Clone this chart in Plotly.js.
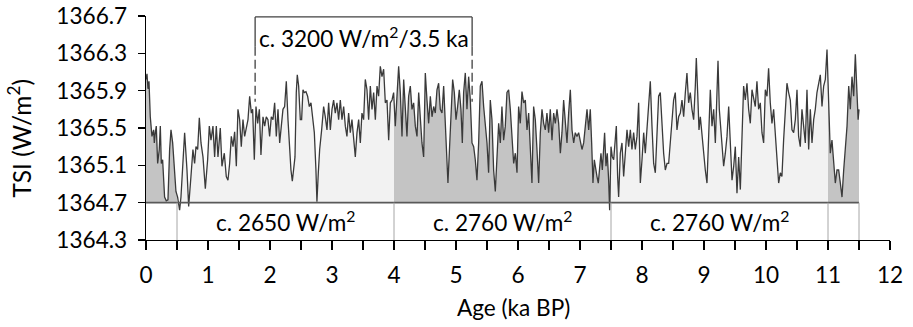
<!DOCTYPE html>
<html>
<head>
<meta charset="utf-8">
<script src="https://cdn.plot.ly/plotly-3.0.1.min.js"></script>
<style>
  html, body { margin: 0; padding: 0; background: #ffffff; }
  #chart { width: 913px; height: 327px; }
</style>
</head>
<body>
<div id="chart"></div>
<script>
// Holocene total solar irradiance reconstruction (ka BP vs W/m2)
const ageKa = [
  0.000, 0.016, 0.032, 0.048, 0.069, 0.096, 0.123, 0.134, 0.150, 0.166, 0.188, 0.214, 0.231, 0.247, 0.268, 0.300,
  0.327, 0.354, 0.381, 0.403, 0.430, 0.456, 0.483, 0.510, 0.542, 0.564, 0.591, 0.623, 0.661, 0.688, 0.725, 0.757,
  0.784, 0.806, 0.833, 0.860, 0.887, 0.919, 0.957, 0.994, 1.021, 1.048, 1.080, 1.107, 1.134, 1.161, 1.198, 1.225,
  1.263, 1.295, 1.322, 1.349, 1.376, 1.403, 1.430, 1.457, 1.483, 1.510, 1.537, 1.564, 1.591, 1.618, 1.645, 1.672,
  1.699, 1.720, 1.747, 1.774, 1.801, 1.828, 1.854, 1.887, 1.914, 1.940, 1.967, 1.994, 2.021, 2.048, 2.075, 2.102,
  2.129, 2.156, 2.182, 2.209, 2.236, 2.263, 2.290, 2.311, 2.338, 2.360, 2.381, 2.403, 2.424, 2.440, 2.462, 2.489,
  2.510, 2.532, 2.553, 2.580, 2.607, 2.634, 2.661, 2.688, 2.715, 2.741, 2.757, 2.779, 2.801, 2.833, 2.865, 2.892,
  2.919, 2.946, 2.973, 3.000, 3.026, 3.053, 3.080, 3.107, 3.134, 3.161, 3.188, 3.215, 3.241, 3.268, 3.295, 3.322,
  3.349, 3.376, 3.403, 3.430, 3.457, 3.483, 3.510, 3.537, 3.564, 3.591, 3.618, 3.645, 3.672, 3.699, 3.726, 3.752,
  3.779, 3.806, 3.833, 3.860, 3.887, 3.914, 3.941, 3.968, 3.994, 4.021, 4.048, 4.075, 4.102, 4.129, 4.156, 4.183,
  4.209, 4.236, 4.263, 4.290, 4.317, 4.344, 4.371, 4.398, 4.425, 4.451, 4.478, 4.505, 4.532, 4.559, 4.586, 4.613,
  4.640, 4.666, 4.693, 4.720, 4.747, 4.774, 4.801, 4.828, 4.854, 4.870, 4.892, 4.919, 4.946, 4.973, 5.000, 5.026,
  5.053, 5.080, 5.102, 5.123, 5.150, 5.177, 5.204, 5.231, 5.258, 5.285, 5.311, 5.338, 5.365, 5.392, 5.419, 5.446,
  5.473, 5.500, 5.526, 5.553, 5.580, 5.607, 5.634, 5.661, 5.688, 5.715, 5.741, 5.768, 5.795, 5.822, 5.849, 5.876,
  5.903, 5.930, 5.957, 5.984, 6.010, 6.037, 6.064, 6.091, 6.118, 6.145, 6.172, 6.199, 6.225, 6.252, 6.279, 6.306,
  6.333, 6.360, 6.387, 6.414, 6.440, 6.467, 6.494, 6.521, 6.548, 6.575, 6.602, 6.629, 6.656, 6.683, 6.709, 6.736,
  6.763, 6.790, 6.817, 6.844, 6.871, 6.898, 6.924, 6.951, 6.978, 7.005, 7.032, 7.059, 7.086, 7.113, 7.140, 7.166,
  7.188, 7.209, 7.231, 7.252, 7.274, 7.295, 7.317, 7.338, 7.360, 7.381, 7.397, 7.419, 7.440, 7.462, 7.478, 7.500,
  7.521, 7.543, 7.564, 7.586, 7.607, 7.623, 7.650, 7.677, 7.704, 7.731, 7.758, 7.785, 7.812, 7.838, 7.865, 7.892,
  7.919, 7.946, 7.973, 8.000, 8.027, 8.053, 8.080, 8.107, 8.134, 8.161, 8.188, 8.215, 8.242, 8.268, 8.295, 8.322,
  8.349, 8.376, 8.403, 8.430, 8.457, 8.484, 8.510, 8.537, 8.564, 8.591, 8.618, 8.645, 8.672, 8.699, 8.725, 8.752,
  8.779, 8.806, 8.833, 8.860, 8.876, 8.898, 8.919, 8.941, 8.968, 8.994, 9.021, 9.048, 9.075, 9.102, 9.129, 9.156,
  9.183, 9.210, 9.226, 9.247, 9.263, 9.290, 9.317, 9.344, 9.371, 9.398, 9.425, 9.452, 9.479, 9.505, 9.532, 9.559,
  9.586, 9.612, 9.639, 9.666, 9.693, 9.720, 9.747, 9.774, 9.801, 9.827, 9.854, 9.881, 9.908, 9.935, 9.962, 9.989,
  10.016, 10.042, 10.069, 10.096, 10.123, 10.150, 10.177, 10.204, 10.231, 10.257, 10.284, 10.311, 10.338, 10.365, 10.392, 10.419,
  10.446, 10.473, 10.500, 10.526, 10.553, 10.580, 10.607, 10.634, 10.661, 10.688, 10.715, 10.742, 10.769, 10.795, 10.822, 10.849,
  10.876, 10.903, 10.930, 10.957, 10.984, 11.011, 11.037, 11.064, 11.091, 11.118, 11.145, 11.172, 11.199, 11.226, 11.253, 11.280,
  11.307, 11.334, 11.360, 11.387, 11.414, 11.441, 11.468, 11.486, 11.500
];

const tsi = [
  1366.02, 1366.08, 1365.92, 1366.00, 1365.62, 1365.41, 1365.48, 1365.34, 1365.45, 1365.52, 1365.12, 1365.27, 1365.52, 1365.12, 1365.16, 1364.76,
  1364.72, 1364.73, 1365.27, 1365.48, 1365.34, 1365.05, 1364.82, 1364.76, 1364.62, 1364.76, 1365.12, 1365.45, 1365.05, 1364.66, 1364.98, 1365.27,
  1365.12, 1365.30, 1365.27, 1365.61, 1365.34, 1365.19, 1364.85, 1365.16, 1365.52, 1365.37, 1365.52, 1365.19, 1365.52, 1365.19, 1365.50, 1365.09,
  1365.23, 1364.98, 1364.94, 1365.12, 1365.41, 1365.30, 1365.46, 1365.09, 1365.70, 1365.59, 1365.30, 1365.59, 1365.41, 1365.52, 1365.59, 1365.84,
  1365.66, 1365.70, 1365.16, 1365.73, 1365.55, 1365.70, 1365.21, 1365.62, 1365.52, 1365.62, 1365.59, 1365.41, 1365.62, 1365.59, 1365.77, 1365.41,
  1365.70, 1365.34, 1365.55, 1365.70, 1365.73, 1366.00, 1365.59, 1365.30, 1365.05, 1364.93, 1365.05, 1365.19, 1365.88, 1366.07, 1365.95, 1365.59,
  1365.59, 1365.91, 1365.88, 1365.89, 1365.84, 1365.73, 1365.77, 1365.62, 1365.45, 1365.05, 1364.71, 1365.02, 1365.27, 1365.48, 1365.73, 1365.62,
  1365.48, 1365.77, 1365.48, 1365.70, 1365.80, 1365.66, 1365.77, 1365.59, 1365.80, 1365.59, 1365.73, 1365.52, 1365.41, 1365.66, 1365.45, 1365.59,
  1365.34, 1365.19, 1365.45, 1365.59, 1365.34, 1365.66, 1365.59, 1366.02, 1365.91, 1365.59, 1365.95, 1365.70, 1365.88, 1365.59, 1365.95, 1365.84,
  1366.16, 1366.05, 1366.13, 1365.77, 1365.80, 1365.37, 1365.77, 1365.80, 1365.88, 1365.52, 1365.84, 1366.16, 1365.88, 1365.41, 1366.02, 1365.66,
  1365.41, 1365.84, 1365.95, 1365.70, 1365.77, 1365.52, 1365.41, 1365.88, 1365.59, 1365.34, 1365.19, 1366.09, 1365.80, 1365.55, 1365.84, 1365.62,
  1365.73, 1365.66, 1365.91, 1365.98, 1365.70, 1365.66, 1365.95, 1365.52, 1365.02, 1364.91, 1365.23, 1365.70, 1366.02, 1365.88, 1365.59, 1365.73,
  1365.91, 1365.70, 1365.34, 1365.88, 1366.09, 1365.70, 1366.05, 1365.80, 1365.34, 1365.30, 1365.16, 1364.94, 1365.34, 1365.95, 1366.00, 1365.73,
  1365.52, 1365.34, 1365.02, 1365.80, 1365.59, 1365.05, 1364.82, 1365.16, 1365.55, 1365.34, 1365.73, 1365.37, 1365.52, 1365.88, 1365.91, 1365.70,
  1365.41, 1365.12, 1365.23, 1365.02, 1365.73, 1365.55, 1365.89, 1365.77, 1365.80, 1365.48, 1365.66, 1365.27, 1364.91, 1365.73, 1365.59, 1365.27,
  1364.91, 1365.45, 1365.70, 1365.55, 1365.48, 1365.66, 1365.45, 1365.70, 1365.37, 1365.66, 1365.55, 1365.70, 1365.55, 1365.23, 1365.45, 1365.80,
  1365.55, 1365.34, 1365.66, 1365.91, 1365.48, 1365.34, 1365.45, 1365.41, 1365.45, 1365.37, 1365.27, 1365.34, 1365.55, 1365.70, 1365.48, 1365.70,
  1365.34, 1364.91, 1365.16, 1365.05, 1364.98, 1364.91, 1365.05, 1365.23, 1365.05, 1365.27, 1365.45, 1365.09, 1365.23, 1364.94, 1364.62, 1365.30,
  1365.19, 1365.16, 1365.34, 1365.52, 1364.98, 1364.76, 1365.23, 1365.34, 1364.98, 1365.30, 1365.48, 1365.30, 1365.48, 1365.27, 1365.45, 1365.27,
  1365.41, 1365.77, 1364.91, 1365.16, 1365.45, 1365.23, 1365.48, 1365.70, 1366.00, 1365.52, 1365.12, 1365.02, 1365.48, 1365.84, 1365.88, 1365.48,
  1365.23, 1365.05, 1365.12, 1365.12, 1365.34, 1365.62, 1365.80, 1365.88, 1365.48, 1365.62, 1365.66, 1365.80, 1365.62, 1365.88, 1366.09, 1365.77,
  1365.88, 1365.70, 1365.59, 1365.95, 1366.25, 1365.88, 1365.48, 1365.62, 1365.41, 1365.23, 1365.05, 1364.91, 1365.34, 1365.91, 1365.52, 1365.70,
  1365.34, 1365.95, 1366.22, 1365.70, 1365.55, 1365.27, 1365.09, 1365.23, 1365.41, 1365.73, 1365.27, 1364.94, 1365.09, 1365.30, 1364.80, 1365.19,
  1364.84, 1365.34, 1365.95, 1365.80, 1365.98, 1365.70, 1365.55, 1365.91, 1365.80, 1365.73, 1366.00, 1365.70, 1365.77, 1365.45, 1365.34, 1365.91,
  1365.84, 1366.14, 1365.77, 1365.55, 1365.70, 1365.41, 1365.16, 1364.91, 1365.02, 1364.98, 1365.37, 1365.70, 1365.98, 1365.88, 1365.80, 1365.48,
  1365.45, 1365.59, 1365.91, 1365.41, 1365.30, 1365.70, 1365.52, 1365.34, 1365.91, 1365.27, 1365.70, 1365.34, 1365.59, 1365.70, 1365.88, 1365.98,
  1366.07, 1365.73, 1365.95, 1366.02, 1366.34, 1365.77, 1365.23, 1365.37, 1365.12, 1364.91, 1365.05, 1365.05, 1364.91, 1364.76, 1365.05, 1365.27,
  1365.52, 1365.95, 1365.70, 1366.05, 1365.84, 1366.29, 1365.88, 1365.59, 1365.70
];

// Intervals between irradiance minima, shaded alternately
const zoneBreaks = [0, 0.5, 4, 7.5, 11, 11.5];
const zoneShade = ['dark', 'light', 'dark', 'light', 'dark'];
const zoneLabels = ['c. 2650 W/m<sup>2</sup>', 'c. 2760 W/m<sup>2</sup>', 'c. 2760 W/m<sup>2</sup>'];
const zoneLabelAt = [2.25, 5.75, 9.25];

// Long cycle bracket
const cycleStart = 1.76;
const cycleEnd = 5.26;
const cycleLabel = 'c. 3200 W/m<sup>2</sup>/3.5 ka';

const baseline = 1364.7;
const yTicks = [1364.3, 1364.7, 1365.1, 1365.5, 1365.9, 1366.3, 1366.7];
const xTicks = [0, 1, 2, 3, 4, 5, 6, 7, 8, 9, 10, 11, 12];

const FONT = 'Lato, "Open Sans", sans-serif';
const FS = 22.6;
const DARK = '#c4c4c4';
const LIGHT = '#f2f2f2';

function valueAt(x) {
  for (let i = 1; i < ageKa.length; i++) {
    if (ageKa[i] >= x) {
      const t = (x - ageKa[i - 1]) / (ageKa[i] - ageKa[i - 1]);
      return tsi[i - 1] + t * (tsi[i] - tsi[i - 1]);
    }
  }
  return tsi[tsi.length - 1];
}

const traces = [];
for (let z = 0; z < zoneShade.length; z++) {
  const a = zoneBreaks[z], b = zoneBreaks[z + 1];
  const xs = [a, a], ys = [baseline, valueAt(a)];
  for (let i = 0; i < ageKa.length; i++) {
    if (ageKa[i] > a && ageKa[i] < b) { xs.push(ageKa[i]); ys.push(tsi[i]); }
  }
  xs.push(b, b); ys.push(valueAt(b), baseline);
  traces.push({
    x: xs, y: ys, type: 'scatter', mode: 'lines', fill: 'toself',
    fillcolor: zoneShade[z] === 'dark' ? DARK : LIGHT,
    line: { width: 0 }, hoverinfo: 'skip', showlegend: false
  });
}

traces.push({
  x: ageKa, y: tsi, type: 'scatter', mode: 'lines',
  line: { color: '#3a3a3a', width: 1.3 }, showlegend: false
});

const bracket = { color: '#404040', width: 1.3 };
const shapes = [
  // reference level
  { type: 'line', x0: 0, x1: zoneBreaks[zoneBreaks.length - 1], y0: baseline, y1: baseline,
    line: { color: '#595959', width: 1.6 } },
  // cycle bracket
  { type: 'line', x0: cycleStart, x1: cycleEnd, y0: 1366.69, y1: 1366.69, line: bracket },
  { type: 'line', x0: cycleStart, x1: cycleStart, y0: 1366.69, y1: 1366.37, line: bracket },
  { type: 'line', x0: cycleEnd, x1: cycleEnd, y0: 1366.69, y1: 1366.37, line: bracket },
  { type: 'line', x0: cycleStart, x1: cycleStart, y0: 1366.37, y1: 1365.78, line: Object.assign({ dash: '9px,4px' }, bracket) },
  { type: 'line', x0: cycleEnd, x1: cycleEnd, y0: 1366.37, y1: 1365.78, line: Object.assign({ dash: '9px,4px' }, bracket) }
];
for (let k = 1; k < zoneBreaks.length; k++) {
  shapes.push({ type: 'line', x0: zoneBreaks[k], x1: zoneBreaks[k], y0: 1364.3, y1: baseline,
    line: { color: '#a6a6a6', width: 1 } });
}

const annotations = [
  { x: (cycleStart + cycleEnd) / 2, y: 1366.48, text: cycleLabel, showarrow: false,
    xanchor: 'center', yanchor: 'middle', font: { family: FONT, size: FS, color: '#000' } },
  { xref: 'paper', yref: 'paper', x: 0.4934, y: -0.30, text: 'Age (ka BP)', showarrow: false,
    xanchor: 'center', yanchor: 'middle', font: { family: FONT, size: FS, color: '#000' } },
  { xref: 'paper', yref: 'paper', x: -0.170, y: 0.455, text: 'TSI (W/m<sup>2</sup>)', showarrow: false,
    textangle: -90, xanchor: 'center', yanchor: 'middle', font: { family: FONT, size: 24.5, color: '#000' } }
];
zoneLabels.forEach((t, i) => {
  annotations.push({ x: zoneLabelAt[i], y: 1364.5, text: t, showarrow: false,
    xanchor: 'center', yanchor: 'middle', font: { family: FONT, size: FS, color: '#000' } });
});

const layout = {
  width: 913, height: 327,
  margin: { l: 146, r: 23, t: 16, b: 87, pad: 0 },
  paper_bgcolor: '#ffffff', plot_bgcolor: '#ffffff',
  font: { family: FONT, size: FS, color: '#000' },
  xaxis: {
    range: [0, 12], tickmode: 'array', tickvals: xTicks, ticktext: xTicks.map(String),
    ticks: 'outside', ticklen: 9, tickwidth: 1.2, tickcolor: '#000',
    minor: { dtick: 0.5, tick0: 0, ticks: 'outside', ticklen: 9, tickwidth: 1.2, tickcolor: '#000', showgrid: false },
    showline: true, linecolor: '#000', linewidth: 1.3,
    showgrid: false, zeroline: false, ticklabelstandoff: 6,
    tickfont: { family: FONT, size: FS, color: '#000' }
  },
  yaxis: {
    range: [1364.3, 1366.7], tickmode: 'array', tickvals: yTicks,
    ticktext: yTicks.map(v => v.toFixed(1)),
    ticks: 'outside', ticklen: 7, tickwidth: 1.2, tickcolor: '#000',
    showline: true, linecolor: '#000', linewidth: 1.3,
    showgrid: false, zeroline: false, ticklabelstandoff: 6,
    tickfont: { family: FONT, size: FS, color: '#000' }
  },
  shapes: shapes,
  annotations: annotations,
  showlegend: false
};

Plotly.newPlot('chart', traces, layout, { displayModeBar: false, staticPlot: true });
</script>
</body>
</html>
